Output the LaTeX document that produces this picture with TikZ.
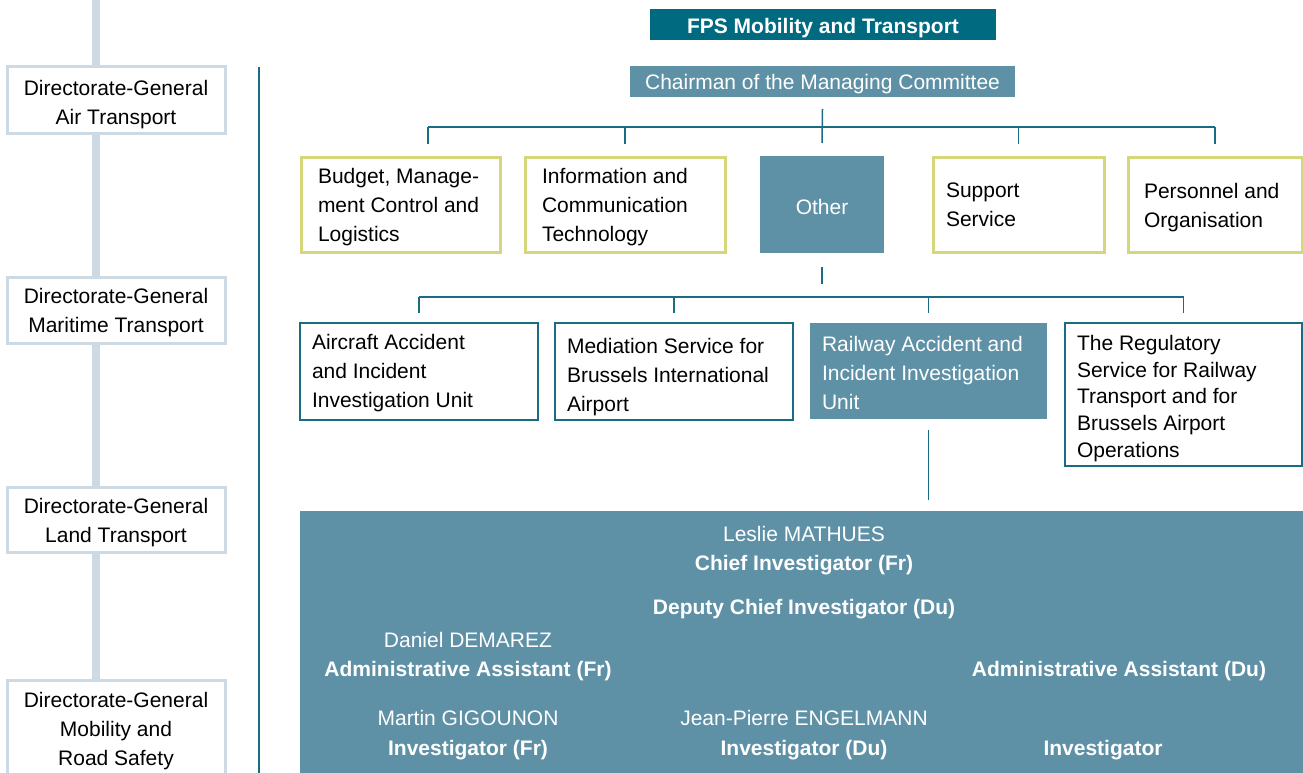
\documentclass[tikz,border=0pt]{standalone}
\usepackage{fontspec}
\setmainfont{Liberation Sans}
\usetikzlibrary{calc}
\definecolor{fpsdark}{RGB}{0,106,128}
\definecolor{unitfill}{RGB}{95,145,166}
\definecolor{connc}{RGB}{26,108,132}
\definecolor{ygreen}{RGB}{212,216,122}
\definecolor{lgray}{RGB}{205,217,227}
\begin{document}
\begin{tikzpicture}[x=1pt,y=-1pt,
  every node/.style={font=\fontsize{21}{29}\selectfont, inner sep=0pt, outer sep=0pt},
  dgbox/.style={draw=lgray, line width=3pt, fill=white, anchor=north west, minimum width=218pt},
  ybox/.style={draw=ygreen, line width=3pt, fill=white, anchor=north west, minimum height=95pt},
  tbox/.style={draw=connc, line width=1.5pt, fill=white, anchor=north west},
  fbox/.style={fill=unitfill, anchor=north west},
  ctxt/.style={align=center},
  ltxt/.style={align=left, anchor=west},
  conn/.style={draw=connc, line width=1.5pt},
  wt/.style={text=white, anchor=base},
  wb/.style={text=white, anchor=base, font=\fontsize{21}{29}\selectfont\bfseries}
]
\useasboundingbox (0,0) rectangle (1303,773);
% left column
\fill[lgray] (92,0) rectangle (100,773);
\node[dgbox, minimum height=67pt] (dgair) at (7,67) {};
\node[ctxt] (dgairT) at ([yshift=-4pt]dgair.center) {Directorate-General\\Air Transport};
\node[dgbox, minimum height=66pt] (dgmar) at (7,277) {};
\node[ctxt] (dgmarT) at ([yshift=-3pt]dgmar.center) {Directorate-General\\Maritime Transport};
\node[dgbox, minimum height=65pt] (dgland) at (7,487) {};
\node[ctxt] (dglandT) at ([yshift=-3pt]dgland.center) {Directorate-General\\Land Transport};
\node[dgbox, minimum height=98pt] (dgmob) at (7,680) {};
\node[ctxt] (dgmobT) at ([yshift=-2pt]dgmob.center) {Directorate-General\\Mobility and\\Road Safety};
\coordinate (sepTop) at (259,67);
\coordinate (sepBot) at (259,773);
\draw[draw=connc, line width=1.3pt] (sepTop) -- (sepBot);
% top
\node[fill=fpsdark, minimum width=346pt, minimum height=31pt, anchor=north west] (fps) at (650,9) {};
\node[text=white, font=\fontsize{21}{29}\selectfont\bfseries] (fpsT) at ([yshift=-4pt]fps.center) {FPS Mobility and Transport};
\node[fill=unitfill, minimum width=385pt, minimum height=31pt, anchor=north west] (chair) at (630,66) {};
\node[text=white] (chairT) at ([yshift=-3pt]chair.center) {Chairman of the Managing Committee};
% row 1
\node[ybox, minimum width=199pt] (budget) at (301,157) {};
\node[ltxt] (budgetT) at ([xshift=17pt,yshift=-3pt]budget.west) {Budget, Manage-\\ment Control and\\Logistics};
\node[ybox, minimum width=200pt] (ict) at (525,157) {};
\node[ltxt] (ictT) at ([xshift=17pt,yshift=-3pt]ict.west) {Information and\\Communication\\Technology};
\node[fbox, minimum width=124pt, minimum height=97pt] (other) at (760,156) {};
\node[text=white] (otherT) at ([yshift=-2pt]other.center) {Other};
\node[ybox, minimum width=171pt] (support) at (933,157) {};
\node[ltxt] (supportT) at ([xshift=13pt]support.west) {Support\\Service};
\node[ybox, minimum width=174pt] (pers) at (1128,157) {};
\node[ltxt] (persT) at ([xshift=16pt,yshift=-3.5pt]pers.west) {Personnel and\\Organisation};
% bus 1
\coordinate (bus1) at (822,127);
\draw[conn] ([yshift=-12pt]chair.south) -- ([yshift=13pt]other.north);
\draw[conn] ([xshift=27.5pt]budget.north |- bus1) -- (pers.north |- bus1);
\draw[conn] ([xshift=27.5pt]budget.north |- bus1) -- ([xshift=27.5pt,yshift=13pt]budget.north);
\foreach \n in {ict,support,pers}
  \draw[conn] (\n.north |- bus1) -- ([yshift=13pt]\n.north);
% row 2
\node[tbox, minimum width=238pt, minimum height=97pt] (aircraft) at (300,323) {};
\node[ltxt] (aircraftT) at ([xshift=12pt,yshift=-2pt]aircraft.west) {Aircraft Accident\\and Incident\\Investigation Unit};
\node[tbox, minimum width=238pt, minimum height=97pt] (mediation) at (555,323) {};
\node[ltxt] (mediationT) at ([xshift=12pt,yshift=-6pt]mediation.west) {Mediation Service for\\Brussels International\\Airport};
\node[fbox, minimum width=237pt, minimum height=96pt] (railway) at (810,323) {};
\node[ltxt, text=white] (railwayT) at ([xshift=12pt,yshift=-1.5pt]railway.west) {Railway Accident and\\Incident Investigation\\Unit};
\node[tbox, minimum width=237pt, minimum height=143pt] (regul) at (1065,323) {};
\node[ltxt, font=\fontsize{21}{26.7}\selectfont] (regulT) at ([xshift=12pt,yshift=-4pt]regul.west) {The Regulatory\\Service for Railway\\Transport and for\\Brussels Airport\\Operations};
% bus 2
\coordinate (bus2) at (822,297);
\draw[conn] ([yshift=-14pt]other.south) -- ([yshift=-31pt]other.south);
\draw[conn] (aircraft.north |- bus2) -- (regul.north |- bus2);
\foreach \n in {aircraft,mediation,railway,regul}
  \draw[conn] (\n.north |- bus2) -- ([yshift=10pt]\n.north);
% railway unit
\node[fill=unitfill, minimum width=1003pt, minimum height=270pt, anchor=north west] (riu) at (300,511) {};
\draw[conn] ([yshift=-11pt]railway.south) -- ([yshift=11pt]riu.north -| railway.south);
\node[wt] (n1) at (804,541) {Leslie MATHUES};
\node[wb] (r1) at (804,570) {Chief Investigator (Fr)};
\node[wb] (r2) at (804,614) {Deputy Chief Investigator (Du)};
\node[wt] (n3) at (468,647) {Daniel DEMAREZ};
\node[wb] (r3) at (468,676) {Administrative Assistant (Fr)};
\node[wb] (r4) at (1119,676) {Administrative Assistant (Du)};
\node[wt] (n5) at (468,725) {Martin GIGOUNON};
\node[wb] (r5) at (468,755) {Investigator (Fr)};
\node[wt] (n6) at (804,725) {Jean-Pierre ENGELMANN};
\node[wb] (r6) at (804,755) {Investigator (Du)};
\node[wb] (r7) at (1103,755) {Investigator};
\end{tikzpicture}
\end{document}
